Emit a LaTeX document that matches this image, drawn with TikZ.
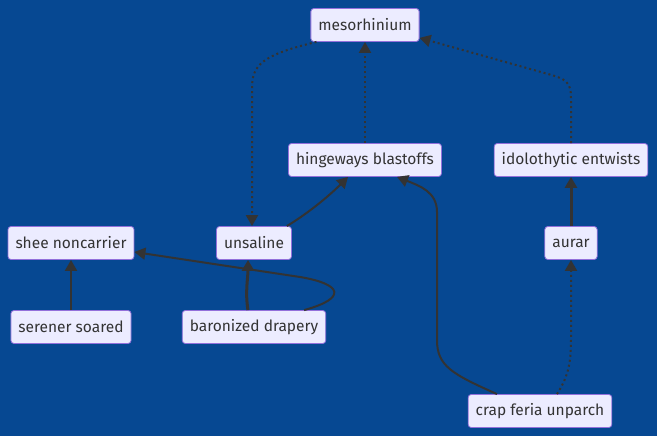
\documentclass[tikz,border=0pt]{standalone}
\usepackage{fontspec}
\setmainfont{Fira Sans}
\usetikzlibrary{arrows.meta,positioning}
\definecolor{bgblue}{RGB}{6,72,146}
\definecolor{boxfill}{HTML}{ECECFF}
\definecolor{boxline}{HTML}{9370DB}
\definecolor{inkgray}{HTML}{333333}

\begin{document}
\begin{tikzpicture}[x=1pt,y=-1pt,node distance=100pt,on grid,font=\fontsize{15.5}{18}\selectfont,
  >={Triangle[length=11pt,width=12pt]}]
	\tikzstyle{every node}=[fill=boxfill,draw=boxline,line width=0.8pt,rounded corners=3pt,text=inkgray,minimum height=33pt,inner xsep=7.5pt]
	\tikzstyle{link}=[draw=inkgray,line width=2pt,->]
	\tikzstyle{boldlink}=[link,line width=3pt]
	\tikzstyle{dotlink}=[link,dash pattern=on 2pt off 3pt]

	\fill[bgblue] (0,0) rectangle (657,436);
	\useasboundingbox (0,0) rectangle (657,436);

	\node (MESO) at (365,25)                          {mesorhinium};
	\node (HINGE) [below=135pt of MESO]               {hingeways blastoffs};
	\node (IDOL) [right=206pt of HINGE]               {idolothytic entwists};
	\node (AURAR) [below=83pt of IDOL]                {aurar};
	\node (UNSAL) [below left=83pt and 111pt of HINGE] {unsaline};
	\node (SHEE) [left=183pt of UNSAL]                {shee noncarrier};
	\node (SERENE) [below=84pt of SHEE]               {serener soared};
	\node (BARON) [below=84pt of UNSAL]               {baronized drapery};
	\node (CRAP) [below left=168pt and 31pt of AURAR] {crap feria unparch};

	\draw[dotlink] ([xshift=6pt]MESO.south west) .. controls (262,55) and (252,65) .. (252,88) -- ([xshift=-2pt]UNSAL.north);
	\draw[dotlink] (HINGE) -- (MESO);
	\draw[dotlink] (IDOL.north) -- (571,98) .. controls (571,82) and (566,79) .. (548,74) -- ([yshift=4pt]MESO.south east);
	\draw[link] ([xshift=-5pt]UNSAL.north east) .. controls (310,212) and (330,195) .. ([xshift=-17pt]HINGE.south);
	\draw[link] ([xshift=-43pt]CRAP.north) .. controls (452,374) and (437,366) .. (437,340) -- (437,212) .. controls (437,192) and (420,186) .. ([xshift=32pt]HINGE.south);
	\draw[boldlink] (AURAR) -- (IDOL);
	\draw[dotlink] ([xshift=17pt]CRAP.north) .. controls (567,378) and (571,366) .. (571,340) -- (AURAR.south);
	\draw[link] (SERENE) -- (SHEE);
	\draw[boldlink] ([xshift=-6pt]BARON.north) .. controls (245,292) and (248,278) .. ([xshift=-6pt]UNSAL.south);
	\draw[link] ([xshift=-22pt]BARON.north east) .. controls (348,298) and (342,284) .. (300,277) -- ([yshift=-9pt]SHEE.east);
\end{tikzpicture}
\end{document}
